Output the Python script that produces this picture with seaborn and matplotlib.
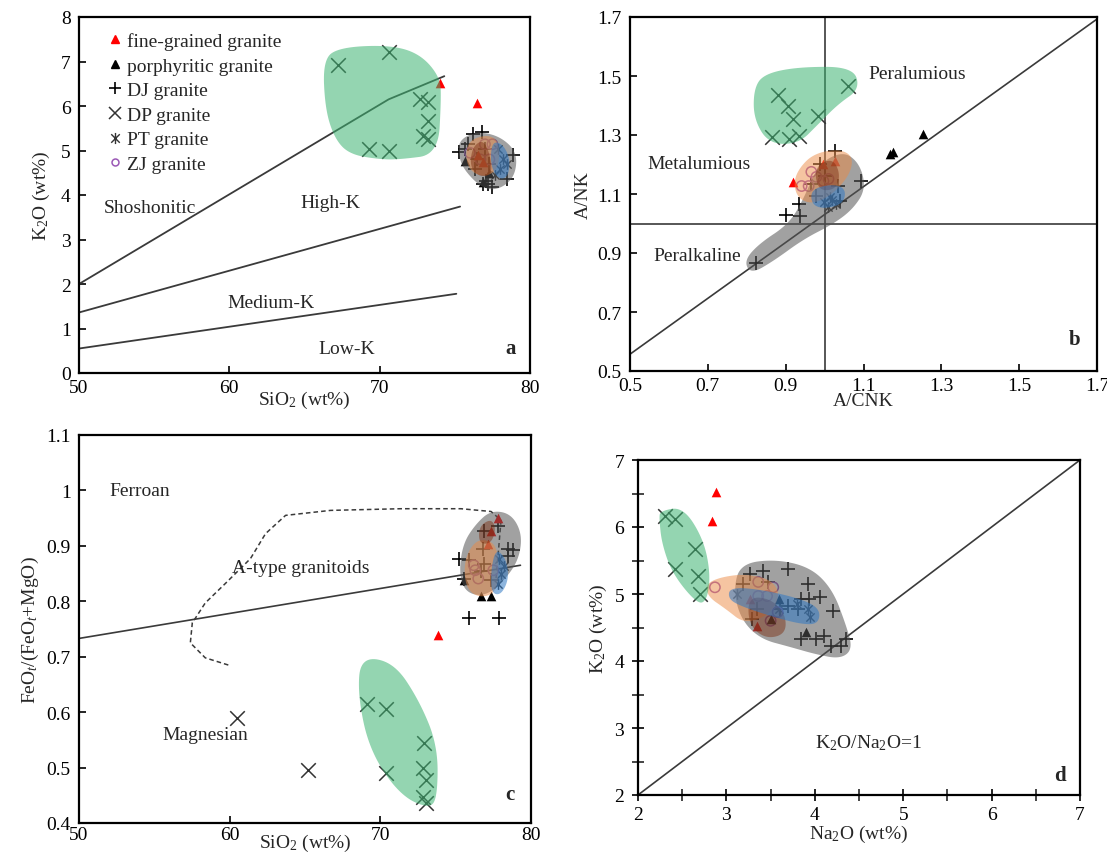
import numpy as np
import matplotlib
matplotlib.use("Agg")
import matplotlib.pyplot as plt
import seaborn as sns
from matplotlib.path import Path
from matplotlib.lines import Line2D

sns.set_theme(style="ticks")
plt.rcParams["font.family"] = ["Liberation Serif", "DejaVu Serif"]
plt.rcParams["mathtext.fontset"] = "custom"
plt.rcParams["mathtext.rm"] = "Liberation Serif"
plt.rcParams["mathtext.it"] = "Liberation Serif:italic"
plt.rcParams["mathtext.bf"] = "Liberation Serif:bold"

# ---------------- (a) SiO2 vs K2O ----------------
a_fine_x = [74.0, 76.5, 76.55, 76.9]
a_fine_y = [6.51, 6.06, 4.91, 4.75]
a_porph_x = [75.7, 77.3, 76.9]
a_porph_y = [4.76, 4.50, 4.30]
a_dj_x = [76.2, 76.8, 75.9, 75.7, 75.3, 78.9, 78.5, 77.1, 76.9, 77.5, 76.5, 77.0, 77.3, 76.35, 77.2]
a_dj_y = [5.36, 5.41, 5.14, 5.03, 4.96, 4.91, 4.35, 4.31, 4.24, 4.19, 4.80, 5.03, 4.69, 4.58, 4.25]
a_dp_x = [67.2, 70.6, 72.7, 73.2, 73.2, 72.9, 73.2, 69.3, 70.6]
a_dp_y = [6.92, 7.21, 6.15, 6.09, 5.66, 5.32, 5.25, 5.03, 4.98]
a_pt_x = [77.9, 78.2, 78.0, 78.5, 77.7]
a_pt_y = [5.03, 4.80, 4.58, 4.69, 4.46]
a_zj_x = [77.0, 77.5, 76.7, 77.3, 76.0]
a_zj_y = [5.14, 5.14, 4.80, 4.80, 4.95]

a_shosh_x = [50, 70.6, 74.3]
a_shosh_y = [2.0, 6.15, 6.67]
a_highk_x = [50, 75.35]
a_highk_y = [1.36, 3.74]
a_medk_x = [50, 75.1]
a_medk_y = [0.55, 1.78]

a_field_dp = [(66.23, 7.05), (67.37, 7.32), (70.69, 7.37), (72.69, 7.17), (74.02, 6.65), (74.09, 6.15),
              (73.89, 4.91), (71.36, 4.80), (70.03, 4.80), (68.03, 4.91), (67.03, 5.25), (66.37, 5.93)]
a_field_dj = [(75.35, 5.25), (76.48, 5.43), (78.01, 5.32), (79.14, 4.96), (79.01, 4.42), (78.01, 4.13),
              (76.88, 4.13), (75.55, 4.58), (75.22, 4.96)]
a_field_zj = [(76.01, 5.25), (77.35, 5.36), (78.01, 5.14), (77.88, 4.58), (77.01, 4.40), (76.01, 4.53),
              (75.68, 4.91)]
a_field_br = [(76.15, 5.07), (76.88, 5.25), (77.35, 4.91), (77.48, 4.46), (76.68, 4.40), (76.01, 4.62)]
a_field_pt = [(77.48, 5.21), (78.21, 5.14), (78.68, 4.80), (78.54, 4.40), (77.88, 4.35), (77.35, 4.69)]

# ---------------- (b) A/CNK vs A/NK ----------------
b_fine_x = [0.920, 0.997, 1.027]
b_fine_y = [1.141, 1.202, 1.212]
b_porph_x = [1.168, 1.175, 1.252]
b_porph_y = [1.236, 1.242, 1.303]
b_dj_x = [0.824, 0.900, 0.938, 0.933, 1.027, 1.094, 1.040, 1.035, 0.979, 0.989, 0.964, 1.000]
b_dj_y = [0.866, 1.029, 1.025, 1.066, 1.246, 1.144, 1.076, 1.127, 1.093, 1.202, 1.134, 1.160]
b_dp_x = [0.880, 0.905, 0.920, 0.864, 0.908, 0.933, 0.984, 1.060]
b_dp_y = [1.436, 1.398, 1.354, 1.293, 1.286, 1.297, 1.364, 1.466]
b_pt_x = [0.999, 1.015, 1.030, 1.010, 1.020]
b_pt_y = [1.073, 1.090, 1.066, 1.056, 1.080]
b_zj_x = [0.941, 0.959, 0.966, 0.979, 1.010, 0.997]
b_zj_y = [1.127, 1.127, 1.175, 1.158, 1.151, 1.144]

b_diag_x = [0.5, 1.7]
b_diag_y = [0.557, 1.693]
b_acnk_one = 1.0
b_ank_one = 1.0

b_field_dp = [(0.844, 1.507), (0.933, 1.531), (1.073, 1.531), (1.091, 1.456), (1.035, 1.405), (0.984, 1.337),
              (0.933, 1.270), (0.857, 1.270), (0.818, 1.354), (0.818, 1.456)]
b_field_dj = [(0.793, 0.873), (0.831, 0.931), (0.908, 0.998), (0.946, 1.083), (0.984, 1.202), (1.048, 1.246),
              (1.091, 1.202), (1.106, 1.117), (1.073, 1.049), (1.022, 0.998), (0.946, 0.947), (0.869, 0.873),
              (0.811, 0.829)]
b_field_zj = [(0.933, 1.185), (0.971, 1.236), (1.035, 1.253), (1.073, 1.229), (1.066, 1.168), (1.022, 1.100),
              (0.971, 1.066), (0.933, 1.083), (0.920, 1.134)]
b_field_br = [(0.984, 1.202), (1.022, 1.219), (1.040, 1.168), (1.030, 1.117), (0.989, 1.110), (0.975, 1.158)]
b_field_pt = [(0.966, 1.117), (1.022, 1.134), (1.055, 1.117), (1.048, 1.066), (0.997, 1.049), (0.966, 1.066)]

# ---------------- (c) SiO2 vs FeOt/(FeOt+MgO) ----------------
c_fine_x = [77.8, 77.35, 77.15, 73.8]
c_fine_y = [0.950, 0.926, 0.904, 0.739]
c_porph_x = [76.7, 77.35, 75.55]
c_porph_y = [0.809, 0.809, 0.838]
c_dj_x = [76.9, 77.8, 75.2, 75.9, 78.5, 78.8, 78.5, 76.8, 76.9, 76.7, 77.35, 75.55, 75.9, 77.9]
c_dj_y = [0.926, 0.935, 0.877, 0.874, 0.895, 0.892, 0.881, 0.895, 0.868, 0.854, 0.838, 0.841, 0.770, 0.770]
c_dp_x = [69.1, 70.4, 72.9, 70.4, 72.8, 73.0, 72.8, 73.0, 60.5, 65.2]
c_dp_y = [0.615, 0.606, 0.545, 0.491, 0.499, 0.477, 0.447, 0.436, 0.590, 0.495]
c_pt_x = [77.9, 78.0, 77.8, 78.2]
c_pt_y = [0.877, 0.850, 0.832, 0.863]
c_zj_x = [76.2, 76.3, 76.5, 77.5]
c_zj_y = [0.865, 0.856, 0.841, 0.856]

c_ferro_x = [50, 79.3]
c_ferro_y = [0.733, 0.865]
c_atype_x = [59.91, 58.38, 57.39, 57.52, 58.38, 59.71, 61.38, 62.38, 63.71, 66.70, 71.36, 75.35, 77.35,
             78.01, 77.88, 77.68]
c_atype_y = [0.685, 0.698, 0.725, 0.761, 0.797, 0.832, 0.877, 0.922, 0.955, 0.964, 0.967, 0.967, 0.962,
             0.946, 0.904, 0.841]

c_field_dp = [(68.7, 0.700), (70.9, 0.690), (72.6, 0.620), (73.8, 0.540), (73.8, 0.450), (73.3, 0.425),
              (71.3, 0.450), (69.3, 0.530), (68.5, 0.630)]
c_field_dj = [(77.35, 0.964), (78.68, 0.958), (79.41, 0.922), (79.21, 0.877), (78.34, 0.841), (77.01, 0.809),
              (75.68, 0.815), (75.22, 0.850), (75.48, 0.904), (76.35, 0.940)]
c_field_zj = [(76.68, 0.913), (77.68, 0.904), (77.88, 0.859), (77.68, 0.815), (76.55, 0.806), (75.68, 0.824),
              (75.55, 0.868), (76.01, 0.899)]
c_field_br = [(76.55, 0.935), (77.35, 0.949), (77.68, 0.931), (77.35, 0.904), (76.55, 0.904)]
c_field_pt = [(77.68, 0.895), (78.34, 0.877), (78.54, 0.841), (78.01, 0.811), (77.35, 0.815), (77.35, 0.859)]

# ---------------- (d) Na2O vs K2O ----------------
d_fine_x = [2.884, 2.84, 3.35, 3.27]
d_fine_y = [6.52, 6.09, 4.52, 4.93]
d_porph_x = [3.90, 3.59, 3.50]
d_porph_y = [4.43, 4.93, 4.63]
d_dj_x = [3.27, 3.41, 3.70, 3.92, 3.19, 3.47, 3.84, 3.93, 4.06, 3.70, 3.81, 4.21, 3.61, 3.29, 3.35,
          4.01, 4.10, 4.18, 3.84, 4.30, 4.35]
d_dj_y = [5.30, 5.34, 5.37, 5.15, 5.15, 5.18, 4.93, 4.93, 4.96, 4.82, 4.78, 4.75, 4.78, 4.63, 4.78,
          4.33, 4.37, 4.22, 4.33, 4.22, 4.33]
d_dp_x = [2.31, 2.42, 2.65, 2.42, 2.68, 2.70]
d_dp_y = [6.16, 6.12, 5.67, 5.37, 5.27, 5.00]
d_pt_x = [3.12, 3.92, 3.95, 3.59, 3.80]
d_pt_y = [5.00, 4.78, 4.66, 4.78, 4.85]
d_zj_x = [2.87, 3.36, 3.46, 3.53, 3.58, 3.50, 3.36]
d_zj_y = [5.10, 5.18, 4.97, 5.10, 4.73, 4.60, 4.97]

d_ratio_x = [2, 7]
d_ratio_y = [2, 7]

d_field_dp = [(2.25, 6.24), (2.51, 6.30), (2.74, 5.82), (2.82, 5.30), (2.78, 4.90), (2.67, 4.85),
              (2.39, 5.30), (2.27, 5.75), (2.24, 6.12)]
d_field_dj = [(3.16, 5.45), (3.55, 5.52), (3.95, 5.40), (4.20, 5.07), (4.35, 4.55), (4.43, 4.18),
              (4.29, 4.03), (4.01, 4.10), (3.72, 4.21), (3.38, 4.33), (3.16, 4.63), (3.08, 5.07)]
d_field_zj = [(2.77, 5.15), (2.93, 5.25), (3.21, 5.30), (3.50, 5.22), (3.61, 5.00), (3.50, 4.70),
              (3.21, 4.55), (2.99, 4.78), (2.79, 4.96)]
d_field_br = [(3.25, 4.96), (3.50, 4.93), (3.67, 4.70), (3.67, 4.40), (3.44, 4.33), (3.25, 4.55)]
d_field_pt = [(3.04, 5.10), (3.38, 5.07), (3.84, 4.93), (4.06, 4.78), (4.04, 4.55), (3.84, 4.55),
              (3.50, 4.67), (3.16, 4.82), (3.02, 4.93)]

legend_labels = ["fine-grained granite", "porphyritic granite", "DJ granite",
                 "DP granite", "PT granite", "ZJ granite"]

# six-armed asterisk: an X with a vertical bar
STAR6 = Path([(-1, -1), (1, 1), (-1, 1), (1, -1), (0, -1.3), (0, 1.3)],
             [Path.MOVETO, Path.LINETO] * 3)

LINE_C = "#3a3a3a"
STYLES = {
    "fine": dict(marker="^", color="#ff0000", s=48, linewidth=0),
    "porph": dict(marker="^", color="black", s=48, linewidth=0),
    "dj": dict(marker="+", color="black", s=100, linewidth=1.2),
    "dp": dict(marker="x", color="#333333", s=110, linewidth=1.1),
    "pt": dict(marker=STAR6, color="#333333", edgecolor="#333333", s=60, linewidth=1.0),
    "zj": dict(marker="o", color="#9b59b6", facecolor="none", edgecolor="#9b59b6", s=55, linewidth=1.1),
}
FIELDS = {
    "dj": ("#555555", 0.55),
    "zj": ("#ec8a44", 0.50),
    "br": ("#7a2a0c", 0.45),
    "pt": ("#2f78c4", 0.55),
    "dp": ("#3cb371", 0.55),
}


def smooth_closed(pts, n=4):
    p = np.asarray(pts, float)
    for _ in range(n):
        nxt = np.roll(p, -1, axis=0)
        q = 0.75 * p + 0.25 * nxt
        r = 0.25 * p + 0.75 * nxt
        p = np.empty((2 * len(q), 2))
        p[0::2] = q
        p[1::2] = r
    return p


def draw_field(ax, pts, key):
    col, alpha = FIELDS[key]
    sm = smooth_closed(pts)
    ax.fill(sm[:, 0], sm[:, 1], color=col, alpha=alpha, lw=0, zorder=4)


def draw_points(ax, groups):
    for key, (xs, ys) in groups.items():
        sns.scatterplot(x=xs, y=ys, ax=ax, legend=False, zorder=3, **STYLES[key])


FS = 14


def style_axes(ax, direction="in"):
    for sp in ax.spines.values():
        sp.set_visible(True)
        sp.set_linewidth(1.6)
        sp.set_color("black")
    ax.tick_params(direction=direction, length=5, width=1.2, labelsize=FS, colors="black", pad=4)
    ax.tick_params(axis="y", pad=6)


W, H = 1107, 854
fig = plt.figure(figsize=(W / 100, H / 100), dpi=100)


def add_axes(l, r, t, b):
    return fig.add_axes([l / W, 1 - b / H, (r - l) / W, (b - t) / H])


ax_a = add_axes(79, 530, 18, 374)
ax_b = add_axes(630, 1097, 18, 372)
ax_c = add_axes(79, 531, 436, 824)
ax_d = add_axes(638, 1080, 461, 796)

# ---- panel a ----
ax = ax_a
for xs, ys in [(a_shosh_x, a_shosh_y), (a_highk_x, a_highk_y), (a_medk_x, a_medk_y)]:
    ax.plot(xs, ys, color=LINE_C, lw=1.3, zorder=2)
draw_points(ax, {"dp": (a_dp_x, a_dp_y), "dj": (a_dj_x, a_dj_y), "pt": (a_pt_x, a_pt_y),
                 "zj": (a_zj_x, a_zj_y), "porph": (a_porph_x, a_porph_y), "fine": (a_fine_x, a_fine_y)})
for key, pts in [("dj", a_field_dj), ("zj", a_field_zj), ("br", a_field_br), ("pt", a_field_pt), ("dp", a_field_dp)]:
    draw_field(ax, pts, key)
ax.text(54.7, 3.72, "Shoshonitic", fontsize=FS, ha="center", va="center")
ax.text(66.7, 3.83, "High-K", fontsize=FS, ha="center", va="center")
ax.text(62.8, 1.58, "Medium-K", fontsize=FS, ha="center", va="center")
ax.text(67.8, 0.55, "Low-K", fontsize=FS, ha="center", va="center")
ax.text(0.956, 0.07, "a", transform=ax.transAxes, fontsize=15, fontweight="bold", ha="center", va="center")
ax.set_xlim(50, 80)
ax.set_ylim(0, 8)
ax.set_xticks([50, 60, 70, 80])
ax.set_yticks(range(0, 9))
ax.set_xlabel("SiO$_2$ (wt%)", fontsize=FS, labelpad=-5)
ax.set_ylabel("K$_2$O (wt%)", fontsize=FS, labelpad=6)
style_axes(ax)

handles = [
    Line2D([], [], ls="none", marker="^", color="#ff0000", markersize=6),
    Line2D([], [], ls="none", marker="^", color="black", markersize=6),
    Line2D([], [], ls="none", marker="+", color="black", markersize=9, markeredgewidth=1.2),
    Line2D([], [], ls="none", marker="x", color="#333333", markersize=8, markeredgewidth=1.1),
    Line2D([], [], ls="none", marker=STAR6, color="#333333", markersize=8, markeredgewidth=1.0),
    Line2D([], [], ls="none", marker="o", color="#9b59b6", markerfacecolor="none", markersize=5,
           markeredgewidth=1.1),
]
ax.legend(handles, legend_labels, loc="upper left", bbox_to_anchor=(0.04, 0.985), frameon=False,
          fontsize=FS, handlelength=0.8, handletextpad=0.25, labelspacing=0.36, borderaxespad=0.1)

# ---- panel b ----
ax = ax_b
ax.plot(b_diag_x, b_diag_y, color=LINE_C, lw=1.2, zorder=2)
ax.axvline(b_acnk_one, color=LINE_C, lw=1.2, zorder=2)
ax.axhline(b_ank_one, color=LINE_C, lw=1.2, zorder=2)
draw_points(ax, {"dp": (b_dp_x, b_dp_y), "dj": (b_dj_x, b_dj_y), "pt": (b_pt_x, b_pt_y),
                 "zj": (b_zj_x, b_zj_y), "porph": (b_porph_x, b_porph_y), "fine": (b_fine_x, b_fine_y)})
for key, pts in [("dj", b_field_dj), ("zj", b_field_zj), ("br", b_field_br), ("pt", b_field_pt), ("dp", b_field_dp)]:
    draw_field(ax, pts, key)
ax.text(1.239, 1.507, "Peralumious", fontsize=FS, ha="center", va="center")
ax.text(0.678, 1.205, "Metalumious", fontsize=FS, ha="center", va="center")
ax.text(0.673, 0.893, "Peralkaline", fontsize=FS, ha="center", va="center")
ax.text(0.951, 0.09, "b", transform=ax.transAxes, fontsize=15, fontweight="bold", ha="center", va="center")
ax.set_xlim(0.5, 1.7)
ax.set_ylim(0.5, 1.7)
ticks_b = [0.5, 0.7, 0.9, 1.1, 1.3, 1.5, 1.7]
ax.set_xticks(ticks_b)
ax.set_yticks(ticks_b)
ax.set_xticklabels([f"{t:.1f}" for t in ticks_b])
ax.set_yticklabels([f"{t:.1f}" for t in ticks_b])
ax.set_xlabel("A/CNK", fontsize=FS, labelpad=-1)
ax.set_ylabel("A/NK", fontsize=FS, labelpad=4)
style_axes(ax)

# ---- panel c ----
ax = ax_c
ax.plot(c_ferro_x, c_ferro_y, color=LINE_C, lw=1.2, zorder=2)
ax.plot(c_atype_x, c_atype_y, color=LINE_C, lw=1.1, ls=(0, (3, 2)), zorder=2)
draw_points(ax, {"dp": (c_dp_x, c_dp_y), "dj": (c_dj_x, c_dj_y), "pt": (c_pt_x, c_pt_y),
                 "zj": (c_zj_x, c_zj_y), "porph": (c_porph_x, c_porph_y), "fine": (c_fine_x, c_fine_y)})
for key, pts in [("dj", c_field_dj), ("zj", c_field_zj), ("br", c_field_br), ("pt", c_field_pt), ("dp", c_field_dp)]:
    draw_field(ax, pts, key)
ax.text(54.06, 1.0, "Ferroan", fontsize=FS, ha="center", va="center")
ax.text(64.7, 0.861, "A-type granitoids", fontsize=FS, ha="center", va="center")
ax.text(58.38, 0.56, "Magnesian", fontsize=FS, ha="center", va="center")
ax.text(0.954, 0.074, "c", transform=ax.transAxes, fontsize=15, fontweight="bold", ha="center", va="center")
ax.set_xlim(50, 80)
ax.set_ylim(0.4, 1.1)
ax.set_xticks([50, 60, 70, 80])
ticks_c = [0.4, 0.5, 0.6, 0.7, 0.8, 0.9, 1.0, 1.1]
ax.set_yticks(ticks_c)
ax.set_yticklabels([f"{t:g}" for t in ticks_c])
ax.set_xlabel("SiO$_2$ (wt%)", fontsize=FS, labelpad=-8)
ax.set_ylabel("FeO$_t$/(FeO$_t$+MgO)", fontsize=FS, labelpad=4)
style_axes(ax)
ax.tick_params(axis="x", pad=2)

# ---- panel d ----
ax = ax_d
ax.plot(d_ratio_x, d_ratio_y, color=LINE_C, lw=1.2, zorder=2)
draw_points(ax, {"dp": (d_dp_x, d_dp_y), "dj": (d_dj_x, d_dj_y), "pt": (d_pt_x, d_pt_y),
                 "zj": (d_zj_x, d_zj_y), "porph": (d_porph_x, d_porph_y), "fine": (d_fine_x, d_fine_y)})
for key, pts in [("dj", d_field_dj), ("zj", d_field_zj), ("br", d_field_br), ("pt", d_field_pt), ("dp", d_field_dp)]:
    draw_field(ax, pts, key)
ax.text(4.61, 2.79, "K$_2$O/Na$_2$O=1", fontsize=FS, ha="center", va="center")
ax.text(0.955, 0.06, "d", transform=ax.transAxes, fontsize=15, fontweight="bold", ha="center", va="center")
ax.set_xlim(2, 7)
ax.set_ylim(2, 7)
ax.set_xticks(range(2, 8))
ax.set_yticks(range(2, 8))
ax.set_xticks(np.arange(2.5, 7, 1.0), minor=True)
ax.set_yticks(np.arange(2.5, 7, 1.0), minor=True)
ax.set_xlabel("Na$_2$O (wt%)", fontsize=FS, labelpad=0)
ax.set_ylabel("K$_2$O (wt%)", fontsize=FS, labelpad=4)
style_axes(ax, direction="inout")
ax.tick_params(which="major", length=8)
ax.tick_params(which="minor", direction="inout", length=8, width=1.2)

fig.savefig("out.png", dpi=100)
